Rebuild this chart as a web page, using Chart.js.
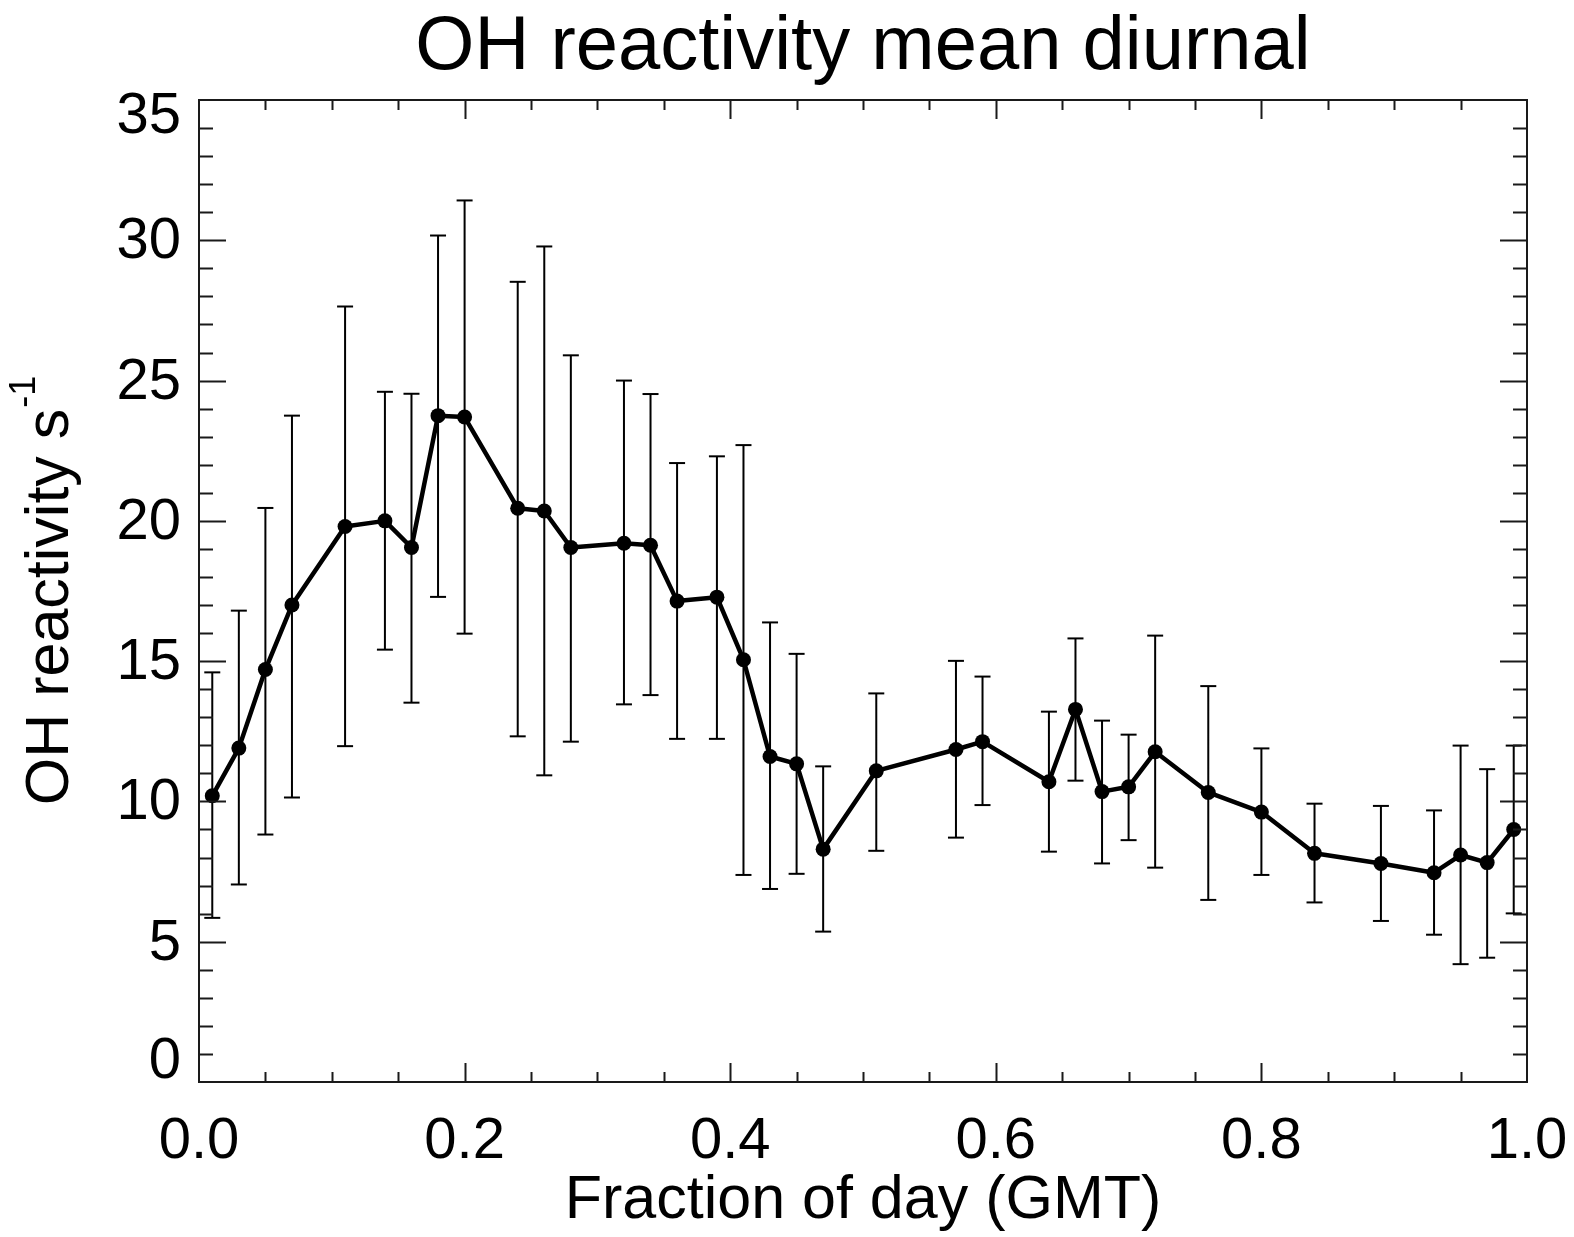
<!DOCTYPE html>
<html>
<head>
<meta charset="utf-8">
<script src="https://cdn.jsdelivr.net/npm/chart.js@4/dist/chart.umd.min.js"></script>
<style>
html,body{margin:0;padding:0;background:#ffffff;}
#wrap{width:1574px;height:1237px;}
</style>
</head>
<body>
<div id="wrap"><canvas id="c" width="1574" height="1237"></canvas></div>
<script>
// ---- data ----
const fractionOfDay = [0.01,0.03,0.05,0.07,0.11,0.14,0.16,0.18,0.20,0.24,0.26,0.28,0.32,0.34,0.36,0.39,0.41,0.43,0.45,0.47,0.51,0.57,0.59,0.64,0.66,0.68,0.70,0.72,0.76,0.80,0.84,0.89,0.93,0.95,0.97,0.99];
const meanReactivity = [10.2,11.9,14.7,17.0,19.8,20.0,19.05,23.75,23.7,20.45,20.35,19.05,19.2,19.13,17.14,17.28,15.05,11.6,11.34,8.3,11.09,11.85,12.13,10.7,13.28,10.35,10.52,11.77,10.32,9.62,8.15,7.79,7.46,8.09,7.82,9.0];
const errHigh = [14.6,16.8,20.46,23.75,27.64,24.6,24.53,30.17,31.42,28.52,29.78,25.9,25.0,24.52,22.06,22.3,22.7,16.38,15.26,11.25,13.85,15.01,14.45,13.2,15.81,12.88,12.38,15.91,14.11,11.89,9.92,9.84,9.68,11.99,11.15,11.99];
const errLow = [5.85,7.04,8.82,10.14,11.97,15.41,13.52,17.29,15.98,12.32,10.93,12.13,13.46,13.79,12.23,12.23,7.38,6.88,7.42,5.36,8.24,8.71,9.87,8.21,10.74,7.79,8.62,7.64,6.49,7.38,6.40,5.74,5.25,4.2,4.43,6.01];
const xTickValues = [0, 0.2, 0.4, 0.6, 0.8, 1.0];
const xTickLabels = ['0.0','0.2','0.4','0.6','0.8','1.0'];
const yTickValues = [0, 5, 10, 15, 20, 25, 30, 35];
const yTickLabels = ['0','5','10','15','20','25','30','35'];
const titleText = 'OH reactivity mean diurnal';
const xTitleText = 'Fraction of day (GMT)';
const yTitleText = 'OH reactivity s';
const yTitleSup = '-1';

// ---- derived datasets ----
const meanPoints = fractionOfDay.map((x, i) => ({x: x, y: meanReactivity[i]}));
const errPoints = [];
fractionOfDay.forEach((x, i) => {
  errPoints.push({x: x, y: errLow[i]});
  errPoints.push({x: x, y: errHigh[i]});
  errPoints.push({x: x, y: null});
});

const FONT = "'Liberation Sans', Arial, Helvetica, sans-serif";
const INK = '#000000';

const idlAxes = {
  id: 'idlAxes',
  afterDraw(chart) {
    const ctx = chart.ctx;
    const a = chart.chartArea;
    const xs = chart.scales.x, ys = chart.scales.y;
    ctx.save();
    // frame
    ctx.strokeStyle = '#1a1a1a';
    ctx.lineWidth = 2;
    ctx.strokeRect(a.left, a.top, a.right - a.left, a.bottom - a.top);
    // x ticks (inward, bottom and top)
    ctx.lineWidth = 2;
    ctx.beginPath();
    for (let k = 1; k < 20; k++) {
      const v = k * 0.05;
      const px = Math.round(xs.getPixelForValue(v)) + 0.5;
      const major = (k % 4 === 0);
      const len = major ? 19 : 10;
      ctx.moveTo(px, a.bottom); ctx.lineTo(px, a.bottom - len);
      ctx.moveTo(px, a.top); ctx.lineTo(px, a.top + len);
    }
    // y ticks (inward, left and right)
    for (let k = 1; k < 35; k++) {
      const py = Math.round(ys.getPixelForValue(k)) + 0.5;
      const major = (k % 5 === 0);
      const len = major ? 27 : 14;
      ctx.moveTo(a.left, py); ctx.lineTo(a.left + len, py);
      ctx.moveTo(a.right, py); ctx.lineTo(a.right - len, py);
    }
    ctx.stroke();

    ctx.fillStyle = INK;
    // y tick labels
    ctx.font = '58px ' + FONT;
    ctx.textAlign = 'right';
    ctx.textBaseline = 'middle';
    yTickValues.forEach((v, i) => {
      let py = ys.getPixelForValue(v);
      if (i === 0) py -= 22;
      if (i === yTickValues.length - 1) py += 15;
      ctx.fillText(yTickLabels[i], 181, py + 2);
    });
    // x tick labels
    ctx.textAlign = 'center';
    ctx.textBaseline = 'alphabetic';
    xTickValues.forEach((v, i) => {
      ctx.fillText(xTickLabels[i], xs.getPixelForValue(v), 1158);
    });
    const cx = (a.left + a.right) / 2;
    // title
    ctx.font = '76px ' + FONT;
    ctx.fillText(titleText, cx, 69);
    // x title
    ctx.font = '61px ' + FONT;
    ctx.fillText(xTitleText, cx, 1218);
    // y title with superscript
    const cy = (a.top + a.bottom) / 2;
    ctx.font = '61px ' + FONT;
    const wMain = ctx.measureText(yTitleText).width;
    ctx.font = '36px ' + FONT;
    const wSup = ctx.measureText(yTitleSup).width;
    const total = wMain + wSup;
    ctx.translate(68, cy);
    ctx.rotate(-Math.PI / 2);
    ctx.textAlign = 'left';
    ctx.font = '61px ' + FONT;
    ctx.fillText(yTitleText, -total / 2, 0);
    ctx.font = '36px ' + FONT;
    ctx.fillText(yTitleSup, -total / 2 + wMain + 1, -33);
    ctx.restore();
  }
};

new Chart(document.getElementById('c'), {
  type: 'line',
  data: {
    datasets: [
      {
        label: 'error',
        data: errPoints,
        borderColor: INK,
        borderWidth: 2,
        spanGaps: false,
        pointStyle: 'line',
        pointRadius: 8,
        pointBorderWidth: 2,
        pointBorderColor: INK,
        pointBackgroundColor: INK,
        tension: 0,
        clip: false,
        order: 2
      },
      {
        label: 'mean',
        data: meanPoints,
        borderColor: INK,
        borderWidth: 4.5,
        pointStyle: 'circle',
        pointRadius: 7.5,
        pointBorderWidth: 0,
        pointBackgroundColor: INK,
        tension: 0,
        clip: false,
        order: 1
      }
    ]
  },
  options: {
    responsive: false,
    animation: false,
    devicePixelRatio: 1,
    layout: { padding: { left: 199, right: 47, top: 100, bottom: 155 } },
    scales: {
      x: { type: 'linear', min: 0, max: 1, display: false },
      y: { type: 'linear', min: 0, max: 35, display: false }
    },
    plugins: {
      legend: { display: false },
      tooltip: { enabled: false },
      title: { display: false }
    },
    elements: { line: { borderJoinStyle: 'round' } }
  },
  plugins: [idlAxes]
});
</script>
</body>
</html>
